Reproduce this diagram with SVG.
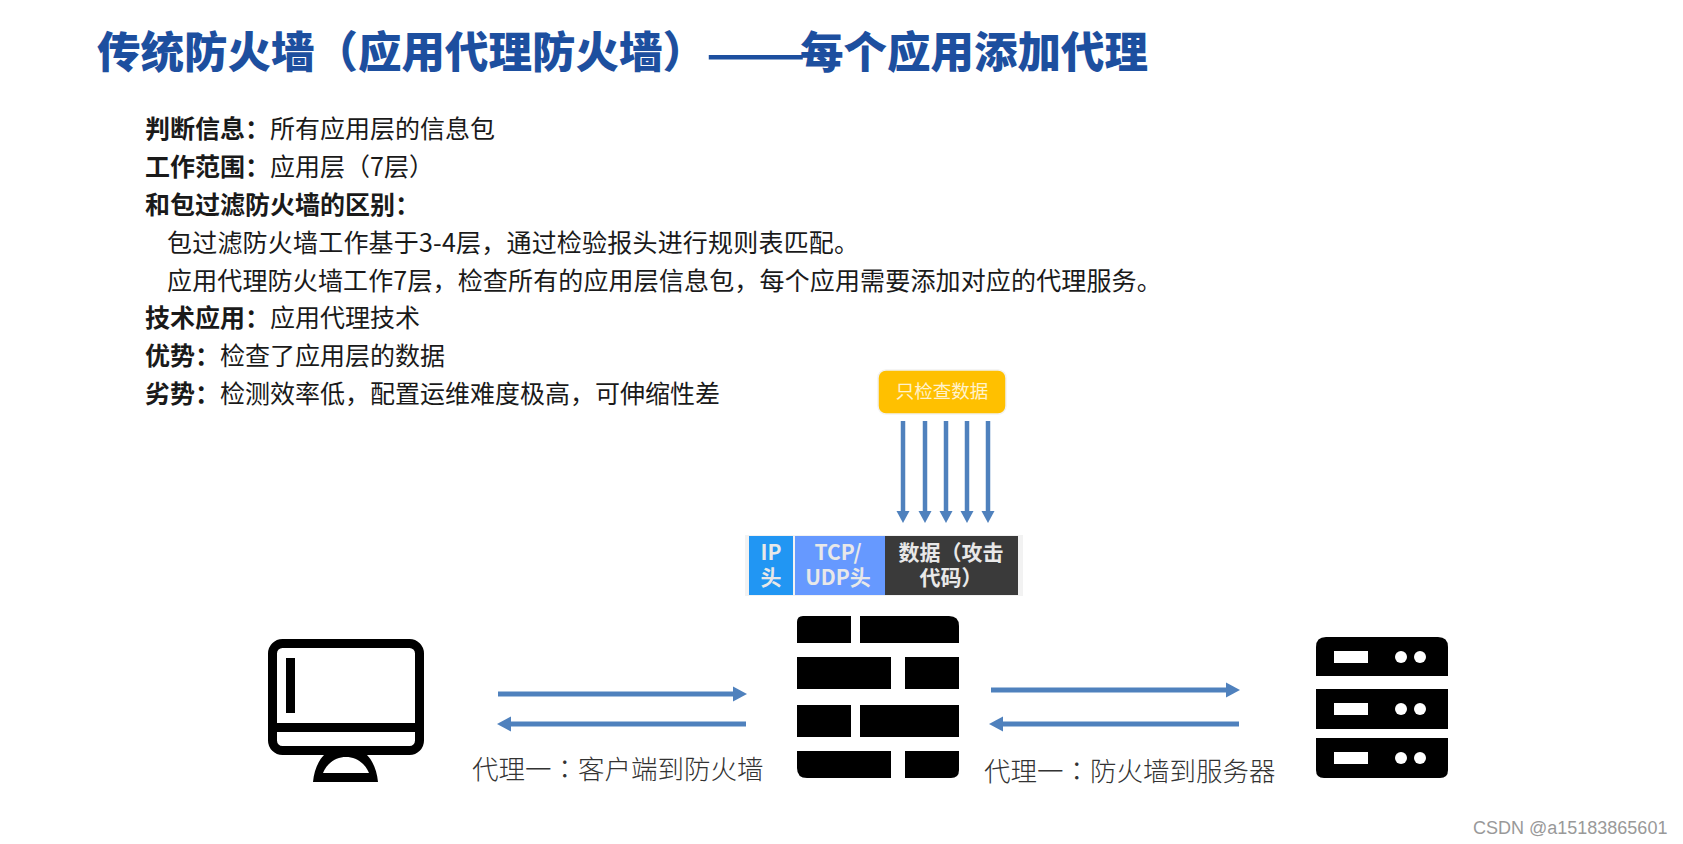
<svg xmlns="http://www.w3.org/2000/svg" width="1683" height="844" viewBox="0 0 1683 844">
<style>
text{font-family:"Noto Sans CJK SC",sans-serif}
.title{font-size:43.500px;font-weight:900;fill:#1d4f9f}
.dash{font-size:59px;font-weight:500}
.body{font-size:25px;fill:#1a1a1a}
.tight{letter-spacing:.2px}
.tight2{letter-spacing:.15px}
.b{font-weight:700}
.lbl{font-size:26.500px;fill:#333;font-weight:300}
.col{font-family:"Noto Sans CJK TC",sans-serif}
.pk{font-size:21px;font-weight:700;fill:#e8e8e8;text-anchor:middle}
.k{fill:#000}
.w{fill:#fff}
.ar{stroke:#4f81bd;stroke-width:4.500;fill:none;marker-end:url(#h)}
.ar2{stroke:#4f81bd;stroke-width:5;fill:none;marker-end:url(#h2)}
</style>
<defs>
<marker id="h" markerUnits="userSpaceOnUse" markerWidth="13" markerHeight="14" refX="0" refY="7" orient="auto"><path d="M0 0.5L12 7L0 13.500Z" fill="#4f81bd"/></marker>
<marker id="h2" markerUnits="userSpaceOnUse" markerWidth="15" markerHeight="17" refX="0" refY="8" orient="auto"><path d="M0 0.5L14 8L0 15.500Z" fill="#4f81bd"/></marker>
</defs>
<rect width="1683" height="844" fill="#fff"/>
<g id="heading"><text class="title" x="97" y="68">传统防火墙（应用代理防火墙）<tspan class="dash" x="706" dy="6">——</tspan><tspan x="800" dy="-6">每个应用添加代理</tspan></text></g>
<g id="description">
<text class="body" x="145" y="138"><tspan class="b">判断信息：</tspan>所有应用层的信息包</text>
<text class="body" x="145" y="176"><tspan class="b">工作范围：</tspan>应用层（7层）</text>
<text class="body" x="145" y="214"><tspan class="b">和包过滤防火墙的区别：</tspan></text>
<text class="body tight" x="167" y="252">包过滤防火墙工作基于3-4层，通过检验报头进行规则表匹配。</text>
<text class="body tight2" x="167" y="290">应用代理防火墙工作7层，检查所有的应用层信息包，每个应用需要添加对应的代理服务。</text>
<text class="body" x="145" y="327"><tspan class="b">技术应用：</tspan>应用代理技术</text>
<text class="body" x="145" y="365"><tspan class="b">优势：</tspan>检查了应用层的数据</text>
<text class="body" x="145" y="403"><tspan class="b">劣势：</tspan>检测效率低，配置运维难度极高，可伸缩性差</text>
</g>
<g id="check-data"><rect x="878" y="370" width="128" height="44" rx="8" fill="#ffc000" stroke="#f2f2f2" stroke-width="1.500"/><text x="942" y="398" font-size="18.500" fill="#fff2cc" text-anchor="middle">只检查数据</text></g>
<g id="packet">
<rect x="745" y="535" width="278" height="61" fill="#f2f2f2"/>
<rect x="749" y="536" width="44" height="59" fill="#2196f3"/>
<rect x="795" y="536" width="90" height="59" fill="#6699ff"/>
<rect x="885" y="536" width="133" height="59" fill="#3a3a3a"/>
<text class="pk"><tspan x="771" y="560">IP</tspan><tspan x="771" y="585">头</tspan></text>
<text class="pk"><tspan x="838" y="560">TCP/</tspan><tspan x="838" y="585">UDP头</tspan></text>
<text class="pk"><tspan x="951" y="560">数据（攻击</tspan><tspan x="951" y="585">代码）</tspan></text>
</g>
<g id="client">
<rect x="272.500" y="643.500" width="147" height="107" rx="10" fill="none" stroke="#000" stroke-width="9"/>
<rect x="272" y="723" width="148" height="9" class="k"/>
<rect x="286" y="658" width="9" height="55" class="k"/>
<path class="k" fill-rule="evenodd" d="M324 755H367C373 761 377 771 378 782H313C314 771 318 761 324 755ZM323 773H369C365 763 356 757 346 757C336 757 327 763 323 773Z"/>
</g>
<g id="firewall">
<path class="k" d="M803 616H851V643H797V622Q797 616 803 616Z"/>
<path class="k" d="M860 616H949Q959 616 959 626V643H860Z"/>
<rect class="k" x="797" y="657" width="94" height="32"/>
<rect class="k" x="905" y="657" width="54" height="32"/>
<rect class="k" x="797" y="705" width="54" height="32"/>
<rect class="k" x="860" y="705" width="99" height="32"/>
<path class="k" d="M797 751H891V778H807Q797 778 797 768Z"/>
<path class="k" d="M905 751H959V770Q959 778 951 778H905Z"/>
</g>
<g id="server">
<path class="k" d="M1326 637H1438Q1448 637 1448 647V676H1316V647Q1316 637 1326 637Z"/>
<rect class="k" x="1316" y="689" width="132" height="40"/>
<path class="k" d="M1316 738H1448V770Q1448 778 1440 778H1324Q1316 778 1316 770Z"/>
<rect class="w" x="1334" y="651" width="34" height="12"/><ellipse class="w" cx="1401" cy="657" rx="6" ry="6"/><ellipse class="w" cx="1420" cy="657" rx="6" ry="6"/>
<rect class="w" x="1334" y="703" width="34" height="12"/><ellipse class="w" cx="1401" cy="709" rx="6" ry="6"/><ellipse class="w" cx="1420" cy="709" rx="6" ry="6"/>
<rect class="w" x="1334" y="752" width="34" height="12"/><ellipse class="w" cx="1401" cy="758" rx="6" ry="6"/><ellipse class="w" cx="1420" cy="758" rx="6" ry="6"/>
</g>
<g id="connectors">
<path class="ar" d="M903 421V511"/><path class="ar" d="M925 421V511"/><path class="ar" d="M946 421V511"/><path class="ar" d="M967 421V511"/><path class="ar" d="M988 421V511"/>
<path class="ar2" d="M498 694H733"/><path class="ar2" d="M746 724H511"/>
<path class="ar2" d="M991 690H1226"/><path class="ar2" d="M1239 724H1003"/>
</g>
<g id="labels">
<text class="lbl" x="472" y="779">代理一<tspan class="col">：</tspan>客户端到防火墙</text>
<text class="lbl" x="984" y="781">代理一<tspan class="col">：</tspan>防火墙到服务器</text>
</g>
<g id="watermark"><text x="1473" y="834" font-size="18" fill="#999" style="font-family:'Liberation Sans',sans-serif">CSDN @a15183865601</text></g>
</svg>
